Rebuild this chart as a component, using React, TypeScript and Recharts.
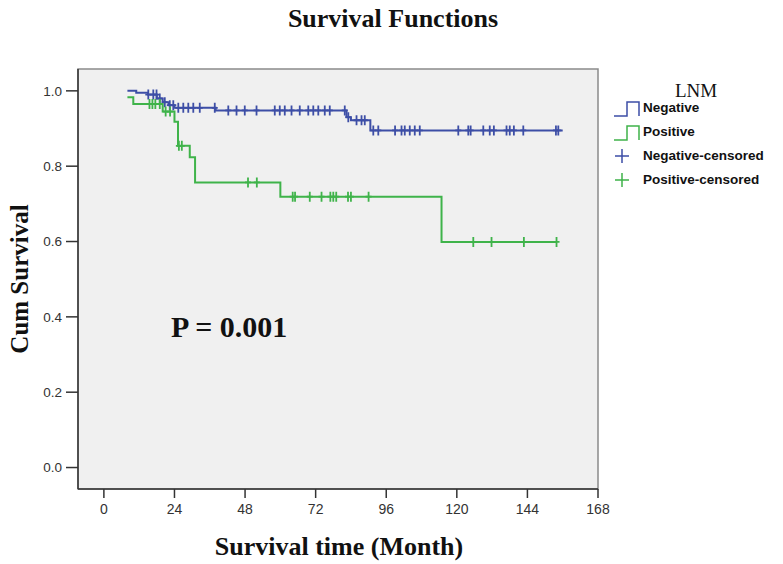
import { ComposedChart, Line, Scatter, XAxis, YAxis, ReferenceArea } from "recharts";

// step points (month, cumulative survival)
const negStepTimes = [8, 11, 15, 18, 20, 22, 24, 38, 82.5, 84, 90.6, 156];
const negStepSurv = [1.0, 0.995, 0.99, 0.98, 0.97, 0.962, 0.955, 0.948, 0.93, 0.922, 0.895, 0.895];
const posStepTimes = [8, 10, 20, 24, 25.2, 29.2, 31, 60, 114.8, 154];
const posStepSurv = [0.983, 0.965, 0.945, 0.918, 0.854, 0.824, 0.757, 0.719, 0.599, 0.599];

// censored times
const negCensor = [15.1, 16.8, 17.9, 19, 20.7, 22.4, 23.6, 25.3, 27, 28.7, 30.4, 32.6, 37.7, 42.3, 45.1, 47.9, 51.9, 58.1, 59.8, 61.5, 63.8, 66.6, 69.5, 71.2, 72.9, 75.1, 76.8, 81.9, 83.1, 85.9, 87.6, 88.7, 91.6, 93.3, 99, 101.2, 102.3, 104, 105.7, 107.4, 120.5, 123.9, 124.7, 129, 131.2, 132.6, 136.9, 138, 139.4, 142.6, 153.7, 154.5];
const posCensor = [15.5, 16.5, 17.5, 19, 21, 22.5, 25.5, 26.5, 49, 52, 64.2, 65, 70, 74, 77, 78, 79, 83, 84, 90, 125.6, 131.8, 142.8, 153.9];

const xTicks = [0, 24, 48, 72, 96, 120, 144, 168];
const yTicks = [0, 0.2, 0.4, 0.6, 0.8, 1.0];

const BLUE = "#3d4ea6";
const GREEN = "#3fb34a";

const steps = (times: number[], surv: number[]) => times.map((t, i) => ({ t, s: surv[i] }));

// survival value at a censored time = level of the last step before it
const levelAt = (times: number[], surv: number[], t: number) => {
  let v = surv[0];
  times.forEach((st, i) => {
    if (st <= t) v = surv[i];
  });
  return v;
};

const censored = (c: number[], times: number[], surv: number[]) =>
  c.map((t) => ({ t, s: levelAt(times, surv, t) }));

const negLine = steps(negStepTimes, negStepSurv);
const posLine = steps(posStepTimes, posStepSurv);
const negMarks = censored(negCensor, negStepTimes, negStepSurv);
const posMarks = censored(posCensor, posStepTimes, posStepSurv);

const plus = (color: string) => (p: any) => (
  <path
    d={`M${p.cx - 3},${p.cy}H${p.cx + 3}M${p.cx},${p.cy - 5}V${p.cy + 5}`}
    stroke={color}
    strokeWidth={1.8}
    fill="none"
  />
);

const serif = "'Liberation Serif', 'Times New Roman', serif";
const sans = "'Liberation Sans', Arial, sans-serif";

export default function App() {
  return (
    <div style={{ position: "relative", width: 783, height: 564, background: "#fff" }}>
      <style>{"body{margin:0}"}</style>
      <ComposedChart width={783} height={564} margin={{ top: 69, right: 185, bottom: 0, left: 0 }}>
        <XAxis
          type="number"
          dataKey="t"
          domain={[-8.8, 168]}
          allowDataOverflow
          ticks={xTicks}
          height={75}
          tickSize={9}
          tickMargin={6}
          axisLine={{ stroke: "#333", strokeWidth: 1.5 }}
          tickLine={{ stroke: "#333", strokeWidth: 1.5 }}
          tick={{ fill: "#333", fontSize: 14, fontFamily: sans }}
        />
        <YAxis
          type="number"
          dataKey="s"
          domain={[-0.057, 1.058]}
          allowDataOverflow
          ticks={yTicks}
          width={78}
          tickSize={12}
          tickMargin={4}
          tickFormatter={(v: number) => v.toFixed(1)}
          axisLine={{ stroke: "#333", strokeWidth: 1.5 }}
          tickLine={{ stroke: "#333", strokeWidth: 1.5 }}
          tick={{ fill: "#333", fontSize: 13.5, fontFamily: sans }}
        />
        <ReferenceArea x1={-8.8} x2={168} y1={-0.057} y2={1.058} fill="#f0f0f0" fillOpacity={1} stroke="#8a8a8a" strokeWidth={1.5} />
        <Line data={negLine} dataKey="s" type="stepAfter" stroke={BLUE} strokeWidth={2} dot={false} isAnimationActive={false} />
        <Line data={posLine} dataKey="s" type="stepAfter" stroke={GREEN} strokeWidth={2} dot={false} isAnimationActive={false} />
        <Scatter data={negMarks} dataKey="s" shape={plus(BLUE)} isAnimationActive={false} />
        <Scatter data={posMarks} dataKey="s" shape={plus(GREEN)} isAnimationActive={false} />
      </ComposedChart>

      <svg width={783} height={564} style={{ position: "absolute", left: 0, top: 0, pointerEvents: "none" }}>
        <text x={393} y={27} textAnchor="middle" fontFamily={serif} fontWeight="bold" fontSize={26} fill="#111">
          Survival Functions
        </text>
        <text x={339} y={555} textAnchor="middle" fontFamily={serif} fontWeight="bold" fontSize={26} fill="#111">
          Survival time (Month)
        </text>
        <text x={28} y={279} textAnchor="middle" transform="rotate(-90, 28, 279)" fontFamily={serif} fontWeight="bold" fontSize={25} fill="#111">
          Cum Survival
        </text>
        <text x={171} y={337} fontFamily={serif} fontWeight="bold" fontSize={30} fill="#111">
          P = 0.001
        </text>

        <text x={696} y={97} textAnchor="middle" fontFamily={serif} fontSize={19} fill="#111">
          LNM
        </text>
        <path d="M614,116H627V102H639V116" stroke={BLUE} strokeWidth={1.5} fill="none" />
        <text x={643} y={112} fontFamily={sans} fontWeight="bold" fontSize={13.5} fill="#111">Negative</text>
        <path d="M614,140H627V126H639V140" stroke={GREEN} strokeWidth={1.5} fill="none" />
        <text x={643} y={136} fontFamily={sans} fontWeight="bold" fontSize={13.5} fill="#111">Positive</text>
        <path d="M615,156H629M622,149V163" stroke={BLUE} strokeWidth={1.5} fill="none" />
        <text x={643} y={160} fontFamily={sans} fontWeight="bold" fontSize={13.5} fill="#111">Negative-censored</text>
        <path d="M615,180H629M622,173V187" stroke={GREEN} strokeWidth={1.5} fill="none" />
        <text x={643} y={184} fontFamily={sans} fontWeight="bold" fontSize={13.5} fill="#111">Positive-censored</text>
      </svg>
    </div>
  );
}
